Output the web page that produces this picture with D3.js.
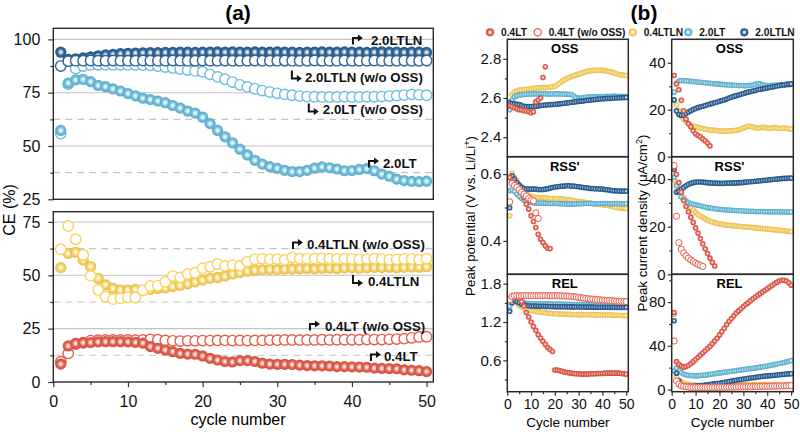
<!DOCTYPE html>
<html><head><meta charset="utf-8">
<script src="https://cdn.jsdelivr.net/npm/d3@7"></script>
<style>body{margin:0;background:#fff}</style>
</head><body><svg id="c" width="800" height="432"></svg>
<script>
// ================= DATA =================
const cycles = d3.range(1, 51);
const seriesNames = ["0.4LT", "0.4LT (w/o OSS)", "0.4LTLN", "2.0LT", "2.0LTLN"];

// ---- Panel (a): Coulombic efficiency (%)
const ce_20LTLN = [94.0,90.6,90.9,91.3,91.8,92.3,92.7,93.0,93.3,93.5,
 93.6,93.7,93.8,93.8,93.9,93.9,94.0,94.0,93.9,94.0,
 94.0,94.1,94.0,94.1,94.0,94.0,94.1,94.0,94.0,94.1,
 94.0,94.0,93.9,94.0,94.0,94.1,94.0,94.0,94.1,94.0,
 94.0,93.9,94.0,94.1,94.0,94.0,93.9,94.0,94.0,93.9];
const ce_20LTLN_wo = [87.5,89.8,90.0,90.0,90.1,90.0,90.0,90.1,90.0,90.0,
 90.0,90.1,90.0,90.0,90.0,90.1,90.0,90.0,90.0,90.1,
 90.0,90.0,90.1,90.0,90.0,90.0,90.1,90.0,90.0,90.0,
 90.1,90.0,90.0,90.0,90.1,90.0,90.0,90.0,90.1,90.0,
 90.0,90.0,90.1,90.0,90.0,90.0,90.1,90.0,90.0,90.1];
const ce_20LT = [57.3,79.5,81.0,81.2,80.2,78.4,77.8,76.8,75.8,74.6,
 73.5,72.4,71.8,71.1,70.3,69.0,67.8,66.4,65.4,63.5,
 60.5,57.3,54.3,51.5,48.5,45.8,43.3,41.5,40.3,39.5,
 38.6,38.0,38.0,38.6,39.6,40.2,39.8,39.2,38.4,38.5,
 39.0,39.4,38.4,36.8,35.8,34.5,33.8,33.4,33.3,33.5];
const ce_20LT_wo = [55.8,79.0,86.3,87.5,88.0,88.1,88.1,88.0,88.1,88.0,
 88.0,87.9,87.8,87.5,87.0,86.6,86.1,85.6,85.2,84.8,
 83.6,82.4,81.3,80.0,78.7,77.7,76.8,76.0,75.3,74.7,
 74.2,73.8,73.4,73.2,73.1,73.0,73.0,73.0,73.1,73.0,
 73.0,73.1,73.1,73.2,73.4,73.6,73.9,74.2,74.0,73.8];
const ce_04LTLN_wo = [62.2,73.1,66.9,59.5,49.7,43.1,40.0,38.8,39.2,39.7,
 39.6,43.0,45.0,45.2,47.0,49.7,49.0,50.6,51.2,53.3,
 54.0,55.3,54.4,54.8,54.4,56.4,57.5,57.8,57.5,57.6,
 57.2,58.4,57.8,57.7,57.8,57.9,57.8,57.7,57.8,57.6,
 57.5,57.7,57.8,57.6,57.3,57.5,57.7,57.6,57.3,57.8];
const ce_04LTLN = [53.6,60.3,60.8,57.2,54.1,48.6,45.5,43.9,43.1,43.1,
 43.4,42.8,43.4,43.8,44.2,44.7,45.3,46.0,46.9,47.8,
 48.6,49.0,49.7,50.6,51.3,52.0,52.4,52.6,52.8,52.7,
 52.9,53.0,53.1,53.2,53.0,53.3,53.4,53.2,53.5,53.6,
 53.3,53.5,53.7,53.6,53.8,53.5,53.7,53.9,53.8,54.0];
const ce_04LT_wo = [9.5,13.4,17.8,18.4,19.4,19.6,19.7,19.7,19.7,19.7,
 19.6,19.7,20.0,19.8,19.5,19.3,19.2,19.3,19.3,19.4,
 19.4,19.5,19.5,19.4,19.5,19.4,19.5,19.5,19.6,19.6,
 19.7,19.7,19.6,19.7,19.7,19.8,19.7,19.8,19.8,19.8,
 19.8,19.9,19.9,19.9,20.0,20.1,20.3,20.7,21.1,21.2];
const ce_04LT = [8.4,16.9,18.1,18.4,18.5,18.8,18.9,18.9,18.9,18.8,
 18.6,18.2,16.6,15.8,15.0,14.2,13.4,13.1,13.0,12.2,
 11.1,10.3,9.6,9.4,10.0,10.0,9.6,8.8,8.4,8.3,
 8.3,8.2,7.9,7.7,7.6,7.6,7.5,7.2,7.2,7.1,
 7.0,6.9,6.5,6.4,6.3,6.2,5.7,5.5,5.3,4.9];

// ---- Panel (b): OSS peak potential (V) and current (uA/cm2)
const pOSS_04LT = [2.560,2.555,2.550,2.545,2.540,2.540,2.535,2.535,2.530,2.525,2.530,2.580,2.590,2.600,2.705,2.760];
const pOSS_04LTLN = [2.580,2.617,2.630,2.635,2.640,2.640,2.642,2.645,2.645,2.648,
 2.650,2.650,2.652,2.652,2.653,2.653,2.654,2.655,2.657,2.660,
 2.668,2.675,2.685,2.693,2.700,2.705,2.710,2.714,2.718,2.722,
 2.726,2.730,2.734,2.738,2.740,2.741,2.742,2.742,2.742,2.741,
 2.740,2.738,2.735,2.732,2.728,2.724,2.720,2.718,2.716,2.715];
const pOSS_20LT = [2.540,2.590,2.605,2.612,2.615,2.617,2.618,2.619,2.620,2.620,
 2.621,2.621,2.620,2.621,2.622,2.621,2.620,2.621,2.620,2.621,
 2.620,2.621,2.620,2.619,2.620,2.619,2.618,2.610,2.602,2.598,
 2.600,2.602,2.604,2.606,2.605,2.606,2.607,2.606,2.607,2.608,
 2.608,2.609,2.608,2.609,2.610,2.609,2.608,2.609,2.608,2.608];
const pOSS_20LTLN = [2.575,2.572,2.570,2.568,2.566,2.562,2.558,2.556,2.556,2.556,
 2.557,2.558,2.560,2.562,2.563,2.564,2.565,2.566,2.567,2.568,
 2.569,2.570,2.572,2.573,2.575,2.576,2.578,2.579,2.581,2.583,
 2.584,2.585,2.587,2.588,2.590,2.591,2.592,2.594,2.595,2.596,
 2.597,2.598,2.598,2.599,2.600,2.600,2.601,2.602,2.602,2.603];
const iOSS_04LT = [34.6,31.0,28.5,24.0,19.5,16.0,14.0,12.8,11.0,9.8,9.0,8.5,7.6,6.8,5.8,4.6];
const iOSS_04LTLN = [24.0,22.0,19.5,17.2,16.0,14.8,14.1,13.6,13.1,12.8,
 12.5,12.3,12.0,11.8,11.6,11.4,11.3,11.2,11.1,11.0,
 10.9,10.9,10.9,11.0,11.0,11.1,11.2,11.5,11.8,12.2,
 12.6,13.0,12.9,12.6,12.3,12.2,12.3,12.5,12.4,12.2,
 12.1,12.3,12.4,12.2,12.1,12.0,12.2,12.1,11.9,11.8];
const iOSS_20LT = [27.5,31.3,32.2,32.4,32.4,32.3,32.2,32.1,32.0,31.9,
 31.8,31.7,31.6,31.5,31.4,31.3,31.2,31.1,31.0,30.9,
 30.8,30.7,30.6,30.5,30.5,30.4,30.4,30.3,30.3,30.3,
 30.2,30.3,30.4,30.5,30.8,31.2,31.0,30.6,30.4,30.3,
 30.3,30.4,30.4,30.5,30.5,30.6,30.6,30.7,30.7,30.8];
const iOSS_20LTLN = [24.2,19.5,18.0,17.6,17.8,18.4,19.0,19.6,20.1,20.5,
 20.9,21.2,21.5,21.8,22.1,22.4,22.7,23.0,23.3,23.6,
 23.9,24.2,24.6,25.0,25.3,25.7,26.0,26.3,26.6,26.9,
 27.2,27.5,27.8,28.0,28.2,28.5,28.7,28.9,29.1,29.3,
 29.5,29.7,29.9,30.1,30.3,30.5,30.6,30.8,30.9,31.0];

// ---- RSS'
const pRSS_04LT = [0.590,0.580,0.572,0.565,0.555,0.545,0.530,0.510,0.495,0.475,0.458,0.440,0.420,0.405,0.395,0.385,0.378,0.377];
const pRSS_04LTwo = [0.517,0.572,0.566,0.560,0.553,0.546,0.540,0.534,0.528,0.523,0.520,0.484,0.467];
const pRSS_04LTLN = [0.475,0.602,0.590,0.580,0.568,0.558,0.548,0.542,0.537,0.533,
 0.531,0.530,0.530,0.529,0.529,0.528,0.528,0.527,0.527,0.527,
 0.526,0.526,0.525,0.525,0.524,0.523,0.522,0.520,0.519,0.518,
 0.517,0.516,0.515,0.514,0.513,0.512,0.511,0.510,0.509,0.508,
 0.507,0.506,0.505,0.504,0.502,0.500,0.499,0.498,0.498,0.497];
const pRSS_20LT = [0.550,0.553,0.548,0.540,0.533,0.527,0.522,0.518,0.516,0.515,
 0.514,0.513,0.513,0.513,0.513,0.513,0.512,0.512,0.512,0.512,
 0.512,0.511,0.511,0.511,0.510,0.510,0.510,0.510,0.511,0.511,
 0.511,0.512,0.512,0.512,0.512,0.511,0.511,0.512,0.512,0.512,
 0.512,0.512,0.511,0.511,0.512,0.512,0.512,0.511,0.511,0.512];
const pRSS_20LTLN = [0.499,0.595,0.585,0.575,0.567,0.561,0.557,0.555,0.555,0.555,
 0.555,0.555,0.554,0.554,0.554,0.555,0.556,0.558,0.560,0.561,
 0.562,0.563,0.564,0.564,0.565,0.565,0.564,0.564,0.563,0.562,
 0.561,0.560,0.559,0.558,0.557,0.557,0.556,0.556,0.555,0.555,
 0.554,0.553,0.552,0.551,0.550,0.550,0.549,0.549,0.549,0.549];
const iRSS_04LT = [45.0,42.0,38.5,34.5,31.0,28.5,26.3,24.0,21.8,19.5,17.3,15.0,12.8,10.7,8.7,6.8,5.0,3.5];
const iRSS_04LTwo = [45.7,24.4,13.3,10.5,9.0,7.8,6.8,6.0,5.3,4.7,4.2,3.7,3.3];
const iRSS_04LTLN = [39.5,37.5,35.8,34.0,32.3,30.5,29.2,28.0,26.9,26.0,
 25.2,24.5,23.9,23.3,22.8,22.4,22.0,21.7,21.4,21.2,
 21.0,20.8,20.7,20.6,20.5,20.4,20.3,20.2,20.1,20.0,
 19.9,19.8,19.7,19.6,19.5,19.4,19.3,19.2,19.1,19.0,
 18.9,18.8,18.7,18.6,18.5,18.4,18.3,18.2,18.1,18.0];
const iRSS_20LT = [40.7,37.2,34.4,32.5,31.5,30.8,30.1,29.7,29.4,29.2,
 29.0,28.8,28.5,28.3,28.0,27.9,27.7,27.6,27.4,27.3,
 27.2,27.1,27.0,27.0,26.9,26.8,26.8,26.7,26.7,26.6,
 26.6,26.5,26.5,26.5,26.4,26.4,26.4,26.4,26.3,26.3,
 26.3,26.3,26.3,26.3,26.3,26.3,26.2,26.2,26.2,26.2];
const iRSS_20LTLN = [44.0,34.5,35.0,35.8,36.5,37.2,37.8,38.2,38.5,38.7,
 38.8,38.8,38.7,38.6,38.5,38.4,38.3,38.3,38.3,38.2,
 38.2,38.2,38.3,38.3,38.3,38.4,38.4,38.5,38.5,38.6,
 38.7,38.8,38.9,39.0,39.1,39.2,39.3,39.4,39.5,39.6,
 39.7,39.8,39.9,40.0,40.1,40.2,40.3,40.3,40.4,40.4];

// ---- REL
const pREL_04LT = [1.565,1.600,1.600,1.590,1.570,1.520,1.450,1.350,1.280,1.200,
 1.130,1.070,1.000,0.950,0.900,0.850,0.800,0.770,0.740,0.450,
 0.450,0.440,0.430,0.420,0.410,0.405,0.400,0.395,0.390,0.390,
 0.385,0.385,0.385,0.385,0.390,0.390,0.390,0.395,0.395,0.395,
 0.400,0.400,0.400,0.400,0.400,0.400,0.400,0.395,0.390,0.385];
const pREL_04LTwo = [1.550,1.600,1.610,1.612,1.612,1.610,1.612,1.613,1.612,1.610,
 1.612,1.613,1.612,1.611,1.612,1.613,1.612,1.611,1.610,1.612,
 1.611,1.610,1.609,1.608,1.607,1.605,1.600,1.595,1.590,1.585,
 1.580,1.575,1.570,1.565,1.560,1.557,1.553,1.550,1.547,1.544,
 1.541,1.538,1.535,1.532,1.530,1.527,1.525,1.523,1.521,1.520];
const pREL_04LTLN = [1.410,1.590,1.540,1.500,1.460,1.440,1.420,1.410,1.395,1.380,
 1.375,1.370,1.360,1.355,1.350,1.345,1.340,1.337,1.334,1.330,
 1.328,1.326,1.325,1.323,1.322,1.320,1.319,1.318,1.317,1.316,
 1.315,1.315,1.314,1.314,1.313,1.313,1.312,1.312,1.311,1.311,
 1.310,1.310,1.309,1.308,1.307,1.306,1.305,1.303,1.301,1.300];
const pREL_20LT = [1.450,1.565,1.550,1.530,1.520,1.510,1.500,1.495,1.490,1.488,
 1.487,1.487,1.486,1.486,1.485,1.485,1.484,1.484,1.483,1.483,
 1.482,1.481,1.480,1.479,1.478,1.477,1.476,1.475,1.474,1.473,
 1.472,1.471,1.470,1.469,1.468,1.467,1.467,1.466,1.466,1.465,
 1.465,1.464,1.464,1.463,1.463,1.462,1.462,1.461,1.461,1.460];
const pREL_20LTLN = [1.367,1.500,1.540,1.520,1.500,1.480,1.470,1.460,1.455,1.450,
 1.450,1.449,1.448,1.447,1.446,1.445,1.444,1.443,1.442,1.441,
 1.440,1.440,1.439,1.439,1.438,1.438,1.437,1.437,1.436,1.436,
 1.435,1.435,1.434,1.434,1.433,1.433,1.432,1.432,1.432,1.431,
 1.431,1.431,1.430,1.430,1.430,1.430,1.430,1.430,1.430,1.430];
const iREL_04LT = [70.5,25.5,23.0,21.5,20.5,21.0,22.0,23.5,25.5,27.5,
 29.5,31.5,33.5,35.5,37.5,39.5,42.0,44.5,47.0,50.0,
 53.0,56.0,59.5,62.5,65.0,67.5,70.0,72.0,74.0,76.0,
 77.8,79.5,81.2,83.0,84.7,86.3,87.8,89.3,90.8,92.3,
 93.8,95.3,96.8,98.2,99.3,100.0,100.0,99.3,97.8,95.5];
const iREL_04LTwo = [44.4,8.0,5.0,3.5,3.0,2.5,2.2,2.0,2.0,1.9,
 1.9,1.9,1.9,1.9,1.9,1.9,2.0,2.0,2.0,2.0,
 2.1,2.1,2.1,2.2,2.2,2.3,2.3,2.4,2.4,2.5,
 2.5,2.6,2.6,2.7,2.7,2.8,2.8,2.9,2.9,3.0,
 3.0,3.1,3.1,3.2,3.2,3.3,3.3,3.4,3.4,3.5];
const iREL_04LTLN = [69.0,12.0,9.0,7.0,6.0,5.3,4.8,4.4,4.1,3.9,
 3.8,3.8,3.7,3.7,3.7,3.6,3.6,3.6,3.6,3.6,
 3.7,3.7,3.8,3.9,4.0,4.0,4.1,4.2,4.2,4.3,
 4.4,4.4,4.4,4.5,4.5,4.5,4.5,4.5,4.5,4.4,
 4.4,4.4,4.3,4.3,4.2,4.2,4.1,4.1,4.0,4.0];
const iREL_20LT = [17.0,19.6,17.2,15.5,14.1,13.5,13.1,12.8,12.6,12.6,
 12.7,12.9,13.1,13.3,13.6,13.9,14.2,14.5,14.8,15.2,
 15.5,15.8,16.1,16.4,16.7,17.0,17.3,17.6,17.9,18.3,
 18.6,18.9,19.2,19.5,19.8,20.2,20.5,20.8,21.2,21.6,
 22.0,22.4,22.8,23.3,23.8,24.3,24.8,25.3,25.8,26.5];
const iREL_20LTLN = [63.0,15.0,8.0,4.5,3.4,3.0,2.9,2.9,3.0,3.1,
 3.3,3.5,3.7,4.0,4.3,4.6,4.9,5.2,5.5,5.8,
 6.1,6.5,6.9,7.3,7.7,8.1,8.5,8.9,9.2,9.6,
 9.9,10.2,10.5,10.8,11.1,11.4,11.7,12.0,12.3,12.5,
 12.7,12.9,13.1,13.3,13.5,13.7,13.9,14.1,14.3,14.5];

// tick labels
const ticksA_top = [25, 50, 75, 100];
const ticksA_bot = [0, 25, 50, 75];
const ticksCycle = [0, 10, 20, 30, 40, 50];

// ================= DRAWING =================
const FONT = '"Liberation Sans", Arial, Helvetica, sans-serif';
const svg = d3.select("#c");
svg.append("rect").attr("width", 800).attr("height", 432).attr("fill", "#fff");
const defs = svg.append("defs");
const COLORS = {"0.4LT": "#e65c4b", "0.4LT (w/o OSS)": "#e65c4b", "0.4LTLN": "#fbd25f", "2.0LT": "#6bbedd", "2.0LTLN": "#2e6399"};
const FILLED = {"0.4LT": true, "0.4LT (w/o OSS)": false, "0.4LTLN": true, "2.0LT": true, "2.0LTLN": true};
const gradId = {};
seriesNames.forEach((n, i) => {
  const c = COLORS[n]; const id = "grad" + i; gradId[n] = id;
  const g = defs.append("radialGradient").attr("id", id).attr("cx", "50%").attr("cy", "50%").attr("r", "50%");
  g.append("stop").attr("offset", "0%").attr("stop-color", "#ffffff");
  g.append("stop").attr("offset", "28%").attr("stop-color", d3.interpolateRgb("#ffffff", c)(0.35));
  g.append("stop").attr("offset", "60%").attr("stop-color", c);
  g.append("stop").attr("offset", "100%").attr("stop-color", d3.color(c).darker(0.35).formatHex());
});

function markers(g, xs, ys, vals, name, r, sw) {
  g.append("g").selectAll("circle").data(vals.map((v, i) => ({c: cycles[i], v})))
    .join("circle")
    .attr("cx", d => xs(d.c)).attr("cy", d => ys(d.v)).attr("r", FILLED[name] ? r : r + 0.3)
    .attr("fill", FILLED[name] ? `url(#${gradId[name]})` : "#fff")
    .attr("stroke", FILLED[name] ? "none" : COLORS[name])
    .attr("stroke-width", sw);
}
function styleAxis(s, fs) {
  s.select(".domain").remove();
  s.selectAll("text").attr("font-size", fs).attr("font-family", FONT).attr("fill", "#111");
  s.selectAll("line").attr("stroke", "#333").attr("stroke-width", 1.2);
}

// ---------- Panel (a)
const xA = d3.scaleLinear().domain([0, 50.9]).range([53.3, 433.3]);
const yTop = d3.scaleLinear().domain([25, 105.2]).range([199.3, 28.3]);
const yBot = d3.scaleLinear().domain([0, 79.8]).range([382, 211.7]);

function frameA(ys, majors, minors, showX) {
  const g = svg.append("g");
  const [x0, x1] = xA.range(); const [yb, yt] = ys.range();
  g.selectAll(".gs").data(majors.filter(v => ys(v) > yt + 2 && ys(v) < yb - 2)).join("line")
    .attr("x1", x0).attr("x2", x1).attr("y1", d => ys(d)).attr("y2", d => ys(d))
    .attr("stroke", "#c4c4c4").attr("stroke-width", 1.1);
  g.selectAll(".gd").data(minors).join("line")
    .attr("x1", x0).attr("x2", x1).attr("y1", d => ys(d)).attr("y2", d => ys(d))
    .attr("stroke", "#c4c4c4").attr("stroke-width", 1.1).attr("stroke-dasharray", "7,5");
  g.append("g").attr("transform", `translate(${x0},0)`)
    .call(d3.axisLeft(ys).tickValues(majors).tickSize(5).tickPadding(8).tickFormat(d3.format("d")))
    .call(s => styleAxis(s, 16));
  g.append("g").attr("transform", `translate(${x0},0)`)
    .call(d3.axisLeft(ys).tickValues(minors).tickSize(3).tickFormat(""))
    .call(s => styleAxis(s, 16));
  if (showX) {
    g.append("g").attr("transform", `translate(0,${yb})`)
      .call(d3.axisBottom(xA).tickValues(ticksCycle).tickSize(5).tickPadding(8.6).tickFormat(d3.format("d")))
      .call(s => styleAxis(s, 16));
    g.append("g").attr("transform", `translate(0,${yb})`)
      .call(d3.axisBottom(xA).tickValues([5, 15, 25, 35, 45]).tickSize(3).tickFormat(""))
      .call(s => styleAxis(s, 16));
  }
  return g;
}
frameA(yTop, ticksA_top, [37.5, 62.5, 87.5], false);
frameA(yBot, ticksA_bot, [12.5, 37.5, 62.5], true);

const panelATop = [
  {vals: ce_20LT_wo, name: "2.0LT", filled: false},
  {vals: ce_20LT, name: "2.0LT", filled: true},
  {vals: ce_20LTLN, name: "2.0LTLN", filled: true},
  {vals: ce_20LTLN_wo, name: "2.0LTLN", filled: false}
];
const panelABot = [
  {vals: ce_04LTLN, name: "0.4LTLN", filled: true},
  {vals: ce_04LTLN_wo, name: "0.4LTLN", filled: false},
  {vals: ce_04LT_wo, name: "0.4LT", filled: false},
  {vals: ce_04LT, name: "0.4LT", filled: true}
];
function markersA(g, ys, s) {
  g.append("g").selectAll("circle").data(s.vals.map((v, i) => ({c: cycles[i], v})))
    .join("circle")
    .attr("cx", d => xA(d.c)).attr("cy", d => ys(d.v)).attr("r", s.filled ? 5.6 : 5.2)
    .attr("fill", s.filled ? `url(#${gradId[s.name]})` : "#fff")
    .attr("stroke", s.filled ? "none" : COLORS[s.name]).attr("stroke-width", 1.4);
}
const mTop = svg.append("g");
panelATop.forEach(s => markersA(mTop, yTop, s));
const mBot = svg.append("g");
panelABot.forEach(s => markersA(mBot, yBot, s));

[yTop, yBot].forEach(ys => {
  const [x0, x1] = xA.range(); const [yb, yt] = ys.range();
  svg.append("rect").attr("x", x0).attr("y", yt).attr("width", x1 - x0).attr("height", yb - yt)
    .attr("fill", "none").attr("stroke", "#2a2a2a").attr("stroke-width", 1.4);
});

// annotations (anchor positions in data units)
const annTop = [
  {t: "2.0LTLN", type: "up", c: 42.55, v: 97.6, dx: 18},
  {t: "2.0LTLN (w/o OSS)", type: "down", c: 33.7, v: 80.2, dx: 13},
  {t: "2.0LT (w/o OSS)", type: "down", c: 36.1, v: 64.8, dx: 14},
  {t: "2.0LT", type: "up", c: 44.16, v: 39.9, dx: 14}
];
const annBot = [
  {t: "0.4LTLN (w/o OSS)", type: "up", c: 33.98, v: 62.3, dx: 14},
  {t: "0.4LTLN", type: "down", c: 42.15, v: 45.0, dx: 15},
  {t: "0.4LT (w/o OSS)", type: "up", c: 36.39, v: 24.1, dx: 15},
  {t: "0.4LT", type: "up", c: 44.29, v: 9.8, dx: 13}
];
function annotate(ys, list) {
  list.forEach(a => {
    const tx = xA(a.c), ty = ys(a.v), x0 = tx - a.dx;
    const g = svg.append("g");
    if (a.type === "up") {
      g.append("path").attr("d", `M${x0},${ty} V${ty - 6.5} H${x0 + 5.5}`).attr("fill", "none").attr("stroke", "#111").attr("stroke-width", 2);
      g.append("path").attr("d", `M${x0 + 5},${ty - 10} L${x0 + 10},${ty - 6.5} L${x0 + 5},${ty - 3} Z`).attr("fill", "#111");
    } else {
      g.append("path").attr("d", `M${x0},${ty - 11} V${ty - 3} H${x0 + 5.5}`).attr("fill", "none").attr("stroke", "#111").attr("stroke-width", 2);
      g.append("path").attr("d", `M${x0 + 5},${ty - 6.5} L${x0 + 10},${ty - 3} L${x0 + 5},${ty + 0.5} Z`).attr("fill", "#111");
    }
    g.append("text").attr("x", tx).attr("y", ty).text(a.t)
      .attr("font-family", FONT).attr("font-size", 13.3).attr("font-weight", "bold").attr("fill", "#111");
  });
}
annotate(yTop, annTop);
annotate(yBot, annBot);

svg.append("text").attr("x", 238).attr("y", 20).attr("text-anchor", "middle").text("(a)")
  .attr("font-family", FONT).attr("font-size", 21).attr("font-weight", "bold");
svg.append("text").attr("x", 238).attr("y", 425).attr("text-anchor", "middle").text("cycle number")
  .attr("font-family", FONT).attr("font-size", 16);
svg.append("text").attr("transform", "translate(14.5,210) rotate(-90)").attr("text-anchor", "middle").text("CE (%)")
  .attr("font-family", FONT).attr("font-size", 16);

// ---------- Panel (b)
const xB = [d3.scaleLinear().domain([0, 50.9]).range([507.3, 628.3]),
            d3.scaleLinear().domain([0, 50.9]).range([671.7, 793.3])];
const rowsB = [[39.3, 156.7], [156.7, 274.3], [274.3, 391.7]];
const titles = ["OSS", "RSS'", "REL"];
const order = ["0.4LTLN", "2.0LT", "2.0LTLN", "0.4LT", "0.4LT (w/o OSS)"];
const subplots = [
  {row: 0, col: 0, domain: [2.3, 2.9], major: [2.4, 2.6, 2.8], minor: [2.5, 2.7], fmt: ".1f",
   data: {"0.4LTLN": pOSS_04LTLN, "2.0LT": pOSS_20LT, "2.0LTLN": pOSS_20LTLN, "0.4LT": pOSS_04LT}},
  {row: 0, col: 1, domain: [0, 50], major: [0, 20, 40], minor: [10, 30], fmt: "d",
   data: {"0.4LTLN": iOSS_04LTLN, "2.0LT": iOSS_20LT, "2.0LTLN": iOSS_20LTLN, "0.4LT": iOSS_04LT}},
  {row: 1, col: 0, domain: [0.3, 0.652], major: [0.4, 0.6], minor: [0.5], fmt: ".1f",
   data: {"0.4LTLN": pRSS_04LTLN, "2.0LT": pRSS_20LT, "2.0LTLN": pRSS_20LTLN, "0.4LT": pRSS_04LT, "0.4LT (w/o OSS)": pRSS_04LTwo}},
  {row: 1, col: 1, domain: [0, 49.4], major: [0, 20, 40], minor: [10, 30], fmt: "d",
   data: {"0.4LTLN": iRSS_04LTLN, "2.0LT": iRSS_20LT, "2.0LTLN": iRSS_20LTLN, "0.4LT": iRSS_04LT, "0.4LT (w/o OSS)": iRSS_04LTwo}},
  {row: 2, col: 0, domain: [0.11, 1.947], major: [0.6, 1.2, 1.8], minor: [0.3, 0.9, 1.5], fmt: ".1f",
   data: {"0.4LTLN": pREL_04LTLN, "2.0LT": pREL_20LT, "2.0LTLN": pREL_20LTLN, "0.4LT": pREL_04LT, "0.4LT (w/o OSS)": pREL_04LTwo}},
  {row: 2, col: 1, domain: [-2, 105.5], major: [0, 40, 80], minor: [20, 60, 100], fmt: "d",
   data: {"0.4LTLN": iREL_04LTLN, "2.0LT": iREL_20LT, "2.0LTLN": iREL_20LTLN, "0.4LT": iREL_04LT, "0.4LT (w/o OSS)": iREL_04LTwo}}
];
subplots.forEach((sp, k) => {
  const xs = xB[sp.col]; const [yt, yb] = rowsB[sp.row];
  const ys = d3.scaleLinear().domain(sp.domain).range([yb, yt]);
  const [x0, x1] = xs.range();
  const g = svg.append("g");
  const cid = "clipB" + k;
  defs.append("clipPath").attr("id", cid).append("rect").attr("x", x0).attr("y", yt).attr("width", x1 - x0).attr("height", yb - yt);
  const mg = g.append("g").attr("clip-path", `url(#${cid})`);
  order.forEach(n => { if (sp.data[n]) markers(mg, xs, ys, sp.data[n], n, 2.8, 1.0); });
  g.append("g").attr("transform", `translate(${x0},0)`)
    .call(d3.axisLeft(ys).tickValues(sp.major).tickSize(4).tickPadding(2).tickFormat(d3.format(sp.fmt)))
    .call(s => styleAxis(s, 15));
  g.append("g").attr("transform", `translate(${x0},0)`)
    .call(d3.axisLeft(ys).tickValues(sp.minor).tickSize(2.5).tickFormat(""))
    .call(s => styleAxis(s, 15));
  if (sp.row === 2) {
    g.append("g").attr("transform", `translate(0,${yb})`)
      .call(d3.axisBottom(xs).tickValues(ticksCycle).tickSize(4).tickPadding(3).tickFormat(d3.format("d")))
      .call(s => styleAxis(s, 14));
    g.append("g").attr("transform", `translate(0,${yb})`)
      .call(d3.axisBottom(xs).tickValues([5, 15, 25, 35, 45]).tickSize(2.5).tickFormat(""))
      .call(s => styleAxis(s, 14));
  }
  g.append("rect").attr("x", x0).attr("y", yt).attr("width", x1 - x0).attr("height", yb - yt)
    .attr("fill", "none").attr("stroke", "#2a2a2a").attr("stroke-width", 1.5);
  g.append("text").attr("x", (x0 + x1) / 2 - 3).attr("y", yt + 14).attr("text-anchor", "middle").text(titles[sp.row])
    .attr("font-family", FONT).attr("font-size", 13).attr("font-weight", "bold");
});
[0, 1].forEach(col => {
  const [x0, x1] = xB[col].range();
  svg.append("text").attr("x", (x0 + x1) / 2).attr("y", 427).attr("text-anchor", "middle").text("Cycle number")
    .attr("font-family", FONT).attr("font-size", 13.5);
});
svg.append("text").attr("transform", "translate(475,216) rotate(-90)").attr("text-anchor", "middle")
  .attr("font-family", FONT).attr("font-size", 13.3)
  .call(t => { t.append("tspan").text("Peak potential (V vs. Li/Li"); t.append("tspan").attr("dy", -5).attr("font-size", 9).text("+"); t.append("tspan").attr("dy", 5).text(")"); });
svg.append("text").attr("transform", "translate(646.5,223) rotate(-90)").attr("text-anchor", "middle")
  .attr("font-family", FONT).attr("font-size", 13.3)
  .call(t => { t.append("tspan").text("Peak current density (μA/cm"); t.append("tspan").attr("dy", -5).attr("font-size", 9).text("2"); t.append("tspan").attr("dy", 5).text(")"); });
svg.append("text").attr("x", 644).attr("y", 20).attr("text-anchor", "middle").text("(b)")
  .attr("font-family", FONT).attr("font-size", 21).attr("font-weight", "bold");

// legend (b)
const legX = [490, 537.7, 632.7, 688.3, 744.3];
const lg = svg.append("g");
seriesNames.forEach((n, i) => {
  lg.append("circle").attr("cx", legX[i]).attr("cy", 32.3).attr("r", FILLED[n] ? 4.1 : 3.6)
    .attr("fill", FILLED[n] ? `url(#${gradId[n]})` : "#fff")
    .attr("stroke", FILLED[n] ? "none" : COLORS[n]).attr("stroke-width", 1.2);
  lg.append("text").attr("x", legX[i] + 11).attr("y", 32.3).attr("dy", "0.35em").text(n)
    .attr("font-family", FONT).attr("font-size", 10.2).attr("font-weight", "bold").attr("fill", "#111");
});
</script>
</body></html>
